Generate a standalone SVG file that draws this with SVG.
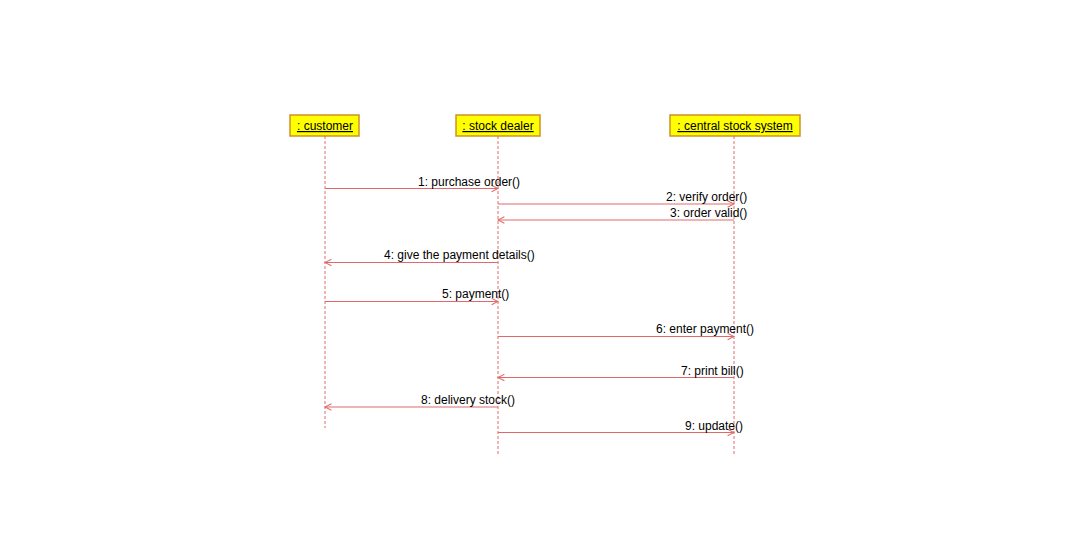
<svg xmlns="http://www.w3.org/2000/svg" width="1066" height="553" viewBox="0 0 1066 553">
<style>
text{font-family:"Liberation Sans",Arial,sans-serif;font-size:12px;fill:#000}
.box{fill:#ffff00;stroke:#d0902a;stroke-width:1.5}
.life{stroke:#e06a6a;stroke-width:1;stroke-dasharray:3,2;fill:none}
.msg{stroke:#e06a6a;stroke-width:1.2;fill:none;marker-end:url(#ah)}
.name{text-decoration:underline;text-anchor:middle}
</style>
<defs>
<marker id="ah" viewBox="0 0 10 10" refX="9" refY="5" markerWidth="8" markerHeight="8" markerUnits="userSpaceOnUse" orient="auto">
<path d="M1,1 L9,5 L1,9" fill="none" stroke="#e06a6a" stroke-width="1.3"/>
</marker>
</defs>
<rect width="1066" height="553" fill="#fff"/>
<g id="customer">
<rect class="box" x="290" y="115" width="69" height="21"/>
<text class="name" x="325" y="130">: customer</text>
<line class="life" x1="325" y1="136" x2="325" y2="428"/>
</g>
<g id="stock-dealer">
<rect class="box" x="456" y="115" width="84" height="21"/>
<text class="name" x="498" y="130">: stock dealer</text>
<line class="life" x1="498" y1="136" x2="498" y2="454"/>
</g>
<g id="central-stock-system">
<rect class="box" x="670" y="115" width="130" height="21"/>
<text class="name" x="735" y="130">: central stock system</text>
<line class="life" x1="734" y1="136" x2="734" y2="454"/>
</g>
<g id="connectors">
<line class="msg" x1="325" y1="188.5" x2="498" y2="188.5"/>
<text x="418" y="186">1: purchase order()</text>
<line class="msg" x1="498" y1="204" x2="734" y2="204"/>
<text x="666" y="201">2: verify order()</text>
<line class="msg" x1="734" y1="220" x2="498" y2="220"/>
<text x="670" y="217">3: order valid()</text>
<line class="msg" x1="498" y1="262.5" x2="325" y2="262.5"/>
<text x="384" y="259">4: give the payment details()</text>
<line class="msg" x1="325" y1="301.5" x2="498" y2="301.5"/>
<text x="442" y="298">5: payment()</text>
<line class="msg" x1="498" y1="336.5" x2="734" y2="336.5"/>
<text x="656" y="333">6: enter payment()</text>
<line class="msg" x1="734" y1="377.5" x2="498" y2="377.5"/>
<text x="681" y="375">7: print bill()</text>
<line class="msg" x1="498" y1="407" x2="325" y2="407"/>
<text x="421" y="404">8: delivery stock()</text>
<line class="msg" x1="498" y1="432.5" x2="734" y2="432.5"/>
<text x="685" y="430">9: update()</text>
</g>
</svg>
